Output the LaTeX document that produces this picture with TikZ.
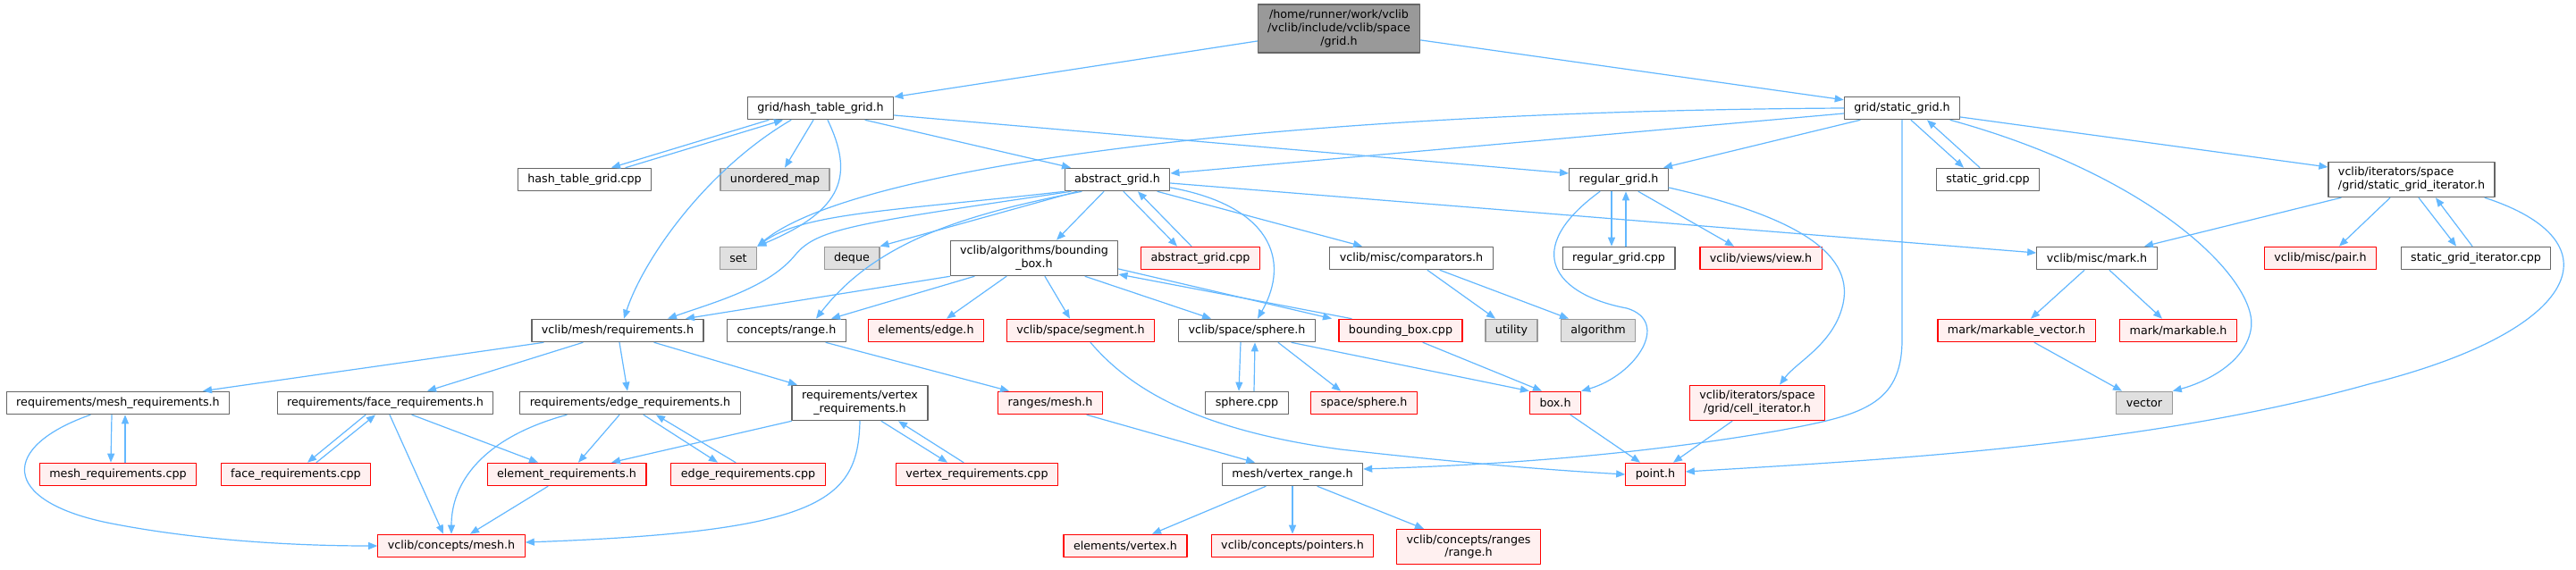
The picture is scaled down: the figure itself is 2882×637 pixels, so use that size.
\documentclass[tikz,border=0pt]{standalone}
\usepackage{fontspec}
\setmainfont{DejaVu Sans}
\usetikzlibrary{arrows.meta}

\definecolor{edgeblue}{RGB}{99,184,255}
\definecolor{framegray}{RGB}{102,102,102}
\definecolor{sysgray}{RGB}{153,153,153}
\definecolor{sysfill}{RGB}{224,224,224}
\definecolor{redfill}{RGB}{255,240,240}

\begin{document}
\begin{tikzpicture}[x=1pt,y=-1pt,line cap=round,line join=round,
        font=\fontsize{12.7}{14.8}\selectfont,
        file/.style={draw=framegray,fill=white,line width=1.2pt,inner xsep=11pt,
            inner ysep=6pt,minimum height=25.5pt},
        trunc/.style={file,draw=red,fill=redfill},
        sys/.style={file,draw=sysgray,fill=sysfill},
        root/.style={file,draw=framegray,fill=sysgray},
        dep/.style={draw=edgeblue,line width=1.2pt,-{Triangle[length=10pt,width=8pt]}}]
        \fill[white] (0,0) rectangle (2882,637);
        \useasboundingbox (0,0) rectangle (2882,637);

        \node[root,align=center] (top) at (1498,32)
            {/home/runner/work/vclib\\/vclib/include/vclib/space\\/grid.h};

        \node[file] (hashh) at (918,121) {grid/hash\_table\_grid.h};
        \node[file] (statich) at (2128,121) {grid/static\_grid.h};

        \node[file] (hashcpp) at (654,201) {hash\_table\_grid.cpp};
        \node[sys] (umap) at (867,201) {unordered\_map};
        \node[file] (absh) at (1250,201) {abstract\_grid.h};
        \node[file] (regh) at (1811,201) {regular\_grid.h};
        \node[file] (staticcpp) at (2224,201) {static\_grid.cpp};
        \node[file,align=left] (sgiterh) at (2698,201)
            {vclib/iterators/space\\/grid/static\_grid\_iterator.h};

        \node[sys] (set) at (826,289) {set};
        \node[sys] (deque) at (953,289) {deque};
        \node[file,align=center] (bboxh) at (1157,289) {vclib/algorithms/bounding\\\_box.h};
        \node[trunc] (abscpp) at (1343,289) {abstract\_grid.cpp};
        \node[file] (comp) at (1579,289) {vclib/misc/comparators.h};
        \node[file] (regcpp) at (1811,289) {regular\_grid.cpp};
        \node[trunc] (view) at (1970,289) {vclib/views/view.h};
        \node[file] (mark) at (2346,289) {vclib/misc/mark.h};
        \node[trunc] (pair) at (2596,289) {vclib/misc/pair.h};
        \node[file] (sgitercpp) at (2770,289) {static\_grid\_iterator.cpp};

        \node[file] (meshreq) at (691,370) {vclib/mesh/requirements.h};
        \node[file] (range) at (880,370) {concepts/range.h};
        \node[trunc] (edge) at (1036,370) {elements/edge.h};
        \node[trunc] (segment) at (1209,370) {vclib/space/segment.h};
        \node[file] (sphereh) at (1395,370) {vclib/space/sphere.h};
        \node[trunc] (bboxcpp) at (1567,370) {bounding\_box.cpp};
        \node[sys] (utility) at (1691,370) {utility};
        \node[sys] (algorithm) at (1788,370) {algorithm};
        \node[trunc] (mvector) at (2256,370) {mark/markable\_vector.h};
        \node[trunc] (markable) at (2437,370) {mark/markable.h};

        \node[file] (meshreqh) at (132,451) {requirements/mesh\_requirements.h};
        \node[file] (facereqh) at (431,451) {requirements/face\_requirements.h};
        \node[file] (edgereqh) at (705,451) {requirements/edge\_requirements.h};
        \node[file,align=center] (vertreqh) at (962,451) {requirements/vertex\\\_requirements.h};
        \node[trunc] (rangesmesh) at (1175,451) {ranges/mesh.h};
        \node[file] (spherecpp) at (1395,451) {sphere.cpp};
        \node[trunc] (spacesphere) at (1526,451) {space/sphere.h};
        \node[trunc] (box) at (1740,451) {box.h};
        \node[trunc,align=center] (celliter) at (1966,451)
            {vclib/iterators/space\\/grid/cell\_iterator.h};
        \node[sys] (vector) at (2399,451) {vector};

        \node[trunc] (meshreqcpp) at (132,531) {mesh\_requirements.cpp};
        \node[trunc] (facereqcpp) at (331,531) {face\_requirements.cpp};
        \node[trunc] (elemreq) at (634,531) {element\_requirements.h};
        \node[trunc] (edgereqcpp) at (837,531) {edge\_requirements.cpp};
        \node[trunc] (vertreqcpp) at (1093,531) {vertex\_requirements.cpp};
        \node[file] (vrange) at (1446,531) {mesh/vertex\_range.h};
        \node[trunc] (point) at (1852,531) {point.h};

        \node[trunc] (cmesh) at (505,611) {vclib/concepts/mesh.h};
        \node[trunc] (evertex) at (1259,611) {elements/vertex.h};
        \node[trunc] (pointers) at (1446,611) {vclib/concepts/pointers.h};
        \node[trunc,align=center] (crange) at (1643,612) {vclib/concepts/ranges\\/range.h};

        \draw[dep] (top) -- (hashh);
        \draw[dep] (top) -- (statich);

        \draw[dep] ([xshift=-58pt]hashh.south) -- ([xshift=30pt]hashcpp.north);
        \draw[dep] ([xshift=46pt]hashcpp.north) -- ([xshift=-42pt]hashh.south);
        \draw[dep] ([xshift=-8pt]hashh.south) -- ([xshift=11pt]umap.north);
        \draw[dep] ([xshift=8pt]hashh.south) .. controls (955,195) and (945,235) .. (set.north east);
        \draw[dep] ([xshift=50pt]hashh.south) -- ([xshift=-52pt]absh.north);
        \draw[dep] ([yshift=-8pt]hashh.east) -- ([yshift=7pt]regh.west);
        \draw[dep] ([xshift=-33pt]hashh.south) .. controls (790,190) and (720,290) .. ([xshift=7pt]meshreq.north);

        \draw[dep] (statich.west) .. controls (1400,125) and (950,190) .. (set.north east);
        \draw[dep] ([yshift=-6pt]statich.west) -- ([yshift=7pt]absh.east);
        \draw[dep] ([xshift=-47pt]statich.south) -- ([xshift=50pt]regh.north);
        \draw[dep] ([xshift=10pt]statich.south) -- ([xshift=-27pt]staticcpp.north);
        \draw[dep] ([xshift=-9pt]staticcpp.north) -- ([xshift=28pt]statich.south);
        \draw[dep] ([yshift=-10pt]statich.east) -- ([yshift=14pt]sgiterh.west);
        \draw[dep] ([xshift=54pt]statich.south) .. controls (2420,200) and (2530,320) .. (2518,370)
            .. controls (2510,410) and (2460,430) .. (vector.north east);
        \draw[dep] (statich.south) -- (2128,380) .. controls (2128,455) and (2080,465) .. (1990,482)
            .. controls (1800,515) and (1620,522) .. ([yshift=6pt]vrange.east);

        \draw[dep] (absh.south west) .. controls (1000,236) and (900,238) .. (set.north east);
        \draw[dep] ([xshift=-52pt]absh.south) .. controls (960,250) and (915,255) .. (890,285)
            .. controls (860,322) and (800,338) .. ([xshift=56pt]meshreq.north);
        \draw[dep] ([xshift=-45pt]absh.south) -- (deque.north east);
        \draw[dep] ([xshift=-40pt]absh.south) .. controls (1080,240) and (980,270) .. ([xshift=33pt]range.north);
        \draw[dep] ([xshift=-15pt]absh.south) -- ([xshift=25pt]bboxh.north);
        \draw[dep] ([xshift=7pt]absh.south) -- ([xshift=-26pt]abscpp.north);
        \draw[dep] ([xshift=-10pt]abscpp.north) -- ([xshift=23pt]absh.south);
        \draw[dep] ([yshift=-9pt]absh.east) .. controls (1420,230) and (1445,290) .. ([xshift=12pt]sphereh.north);
        \draw[dep] ([xshift=45pt]absh.south) -- ([xshift=-55pt]comp.north);
        \draw[dep] ([yshift=-4pt]absh.east) -- ([yshift=6pt]mark.west);

        \draw[dep] ([xshift=-8pt]regh.south) -- ([xshift=-8pt]regcpp.north);
        \draw[dep] ([xshift=8pt]regcpp.north) -- ([xshift=8pt]regh.south);
        \draw[dep] ([xshift=22pt]regh.south) -- ([xshift=-30pt]view.north);
        \draw[dep] ([xshift=-21pt]regh.south) .. controls (1700,280) and (1740,330) .. (1820,345)
            .. controls (1870,360) and (1830,420) .. (box.north east);
        \draw[dep] ([yshift=-9pt]regh.east) .. controls (2000,240) and (2075,280) .. (2062,340)
            .. controls (2052,385) and (2010,405) .. ([xshift=25pt]celliter.north);

        \draw[dep] (bboxh.south west) -- ([xshift=76pt]meshreq.north);
        \draw[dep] ([xshift=-67pt]bboxh.south) -- ([xshift=50pt]range.north);
        \draw[dep] ([xshift=-31pt]bboxh.south) -- ([xshift=23pt]edge.north);
        \draw[dep] ([xshift=12pt]bboxh.south) -- ([xshift=-12pt]segment.north);
        \draw[dep] ([xshift=57pt]bboxh.south) -- ([xshift=-40pt]sphereh.north);
        \draw[dep] ([yshift=-12pt]bboxh.east) -- ([xshift=-77pt]bboxcpp.north);
        \draw[dep] ([xshift=-55pt]bboxcpp.north) -- ([yshift=-18pt]bboxh.east);

        \draw[dep] ([xshift=18pt]comp.south) -- ([xshift=-18pt]utility.north);
        \draw[dep] ([xshift=32pt]comp.south) -- ([xshift=-33pt]algorithm.north);

        \draw[dep] ([xshift=-14pt]mark.south) -- ([xshift=16pt]mvector.north);
        \draw[dep] ([xshift=14pt]mark.south) -- ([xshift=-18pt]markable.north);
        \draw[dep] ([xshift=20pt]mvector.south) -- ([xshift=-25pt]vector.north);

        \draw[dep] ([xshift=-79pt]sgiterh.south) -- ([xshift=53pt]mark.north);
        \draw[dep] ([xshift=-24pt]sgiterh.south) -- ([xshift=21pt]pair.north);
        \draw[dep] ([xshift=8pt]sgiterh.south) -- ([xshift=-22pt]sgitercpp.north);
        \draw[dep] ([xshift=-4pt]sgitercpp.north) -- ([xshift=27pt]sgiterh.south);
        \draw[dep] ([xshift=82pt]sgiterh.south) .. controls (2930,270) and (2890,370) .. (2650,430)
            .. controls (2400,500) and (2100,515) .. ([yshift=3pt]point.east);

        \draw[dep] ([xshift=-83pt]meshreq.south) -- ([xshift=95pt]meshreqh.north);
        \draw[dep] ([xshift=-39pt]meshreq.south) -- ([xshift=47pt]facereqh.north);
        \draw[dep] ([xshift=2pt]meshreq.south) -- ([xshift=-3pt]edgereqh.north);
        \draw[dep] ([xshift=41pt]meshreq.south) -- ([xshift=-70pt]vertreqh.north);

        \draw[dep] ([xshift=44pt]range.south) -- ([xshift=-46pt]rangesmesh.north);
        \draw[dep] ([xshift=11pt]segment.south) .. controls (1260,430) and (1330,480) .. (1500,503)
            .. controls (1650,520) and (1750,527) .. (point.west);
        \draw[dep] ([xshift=-7pt]sphereh.south) -- ([xshift=-9pt]spherecpp.north);
        \draw[dep] ([xshift=8pt]spherecpp.north) -- ([xshift=9pt]sphereh.south);
        \draw[dep] ([xshift=35pt]sphereh.south) -- ([xshift=-26pt]spacesphere.north);
        \draw[dep] ([xshift=50pt]sphereh.south) -- (box.north west);
        \draw[dep] ([xshift=25pt]bboxcpp.south) -- ([xshift=-15pt]box.north);

        \draw[dep] ([xshift=-7pt]meshreqh.south) -- ([xshift=-8pt]meshreqcpp.north);
        \draw[dep] ([xshift=8pt]meshreqcpp.north) -- ([xshift=8pt]meshreqh.south);
        \draw[dep] ([xshift=-31pt]meshreqh.south) .. controls (0,500) and (0,560) .. (120,585)
            .. controls (220,605) and (330,611) .. (cmesh.west);
        \draw[dep] ([xshift=-22pt]facereqh.south) -- ([xshift=13pt]facereqcpp.north);
        \draw[dep] ([xshift=23pt]facereqcpp.north) -- ([xshift=-11pt]facereqh.south);
        \draw[dep] ([xshift=30pt]facereqh.south) -- ([xshift=-32pt]elemreq.north);
        \draw[dep] ([xshift=5pt]facereqh.south) -- ([xshift=-9pt]cmesh.north);
        \draw[dep] ([xshift=-71pt]edgereqh.south) .. controls (540,490) and (505,540) .. (cmesh.north);
        \draw[dep] ([xshift=-12pt]edgereqh.south) -- ([xshift=13pt]elemreq.north);
        \draw[dep] ([xshift=15pt]edgereqh.south) -- ([xshift=-34pt]edgereqcpp.north);
        \draw[dep] ([xshift=-14pt]edgereqcpp.north) -- ([xshift=29pt]edgereqh.south);
        \draw[dep] (vertreqh.south west) -- ([xshift=50pt]elemreq.north);
        \draw[dep] (vertreqh.south) .. controls (960,560) and (920,595) .. ([yshift=4pt]cmesh.east);
        \draw[dep] ([xshift=24pt]vertreqh.south) -- ([xshift=-33pt]vertreqcpp.north);
        \draw[dep] ([xshift=-15pt]vertreqcpp.north) -- ([xshift=43pt]vertreqh.south);
        \draw[dep] ([xshift=41pt]rangesmesh.south) -- ([xshift=-42pt]vrange.north);
        \draw[dep] ([xshift=17pt]box.south) -- ([xshift=-17pt]point.north);
        \draw[dep] ([xshift=-28pt]celliter.south) -- ([xshift=20pt]point.north);

        \draw[dep] ([xshift=-21pt]elemreq.south) -- ([xshift=21pt]cmesh.north);
        \draw[dep] ([xshift=-30pt]vrange.south) -- ([xshift=30pt]evertex.north);
        \draw[dep] (vrange.south) -- (pointers.north);
        \draw[dep] ([xshift=28pt]vrange.south) -- ([xshift=-50pt]crange.north);
    \end{tikzpicture}
\end{document}
